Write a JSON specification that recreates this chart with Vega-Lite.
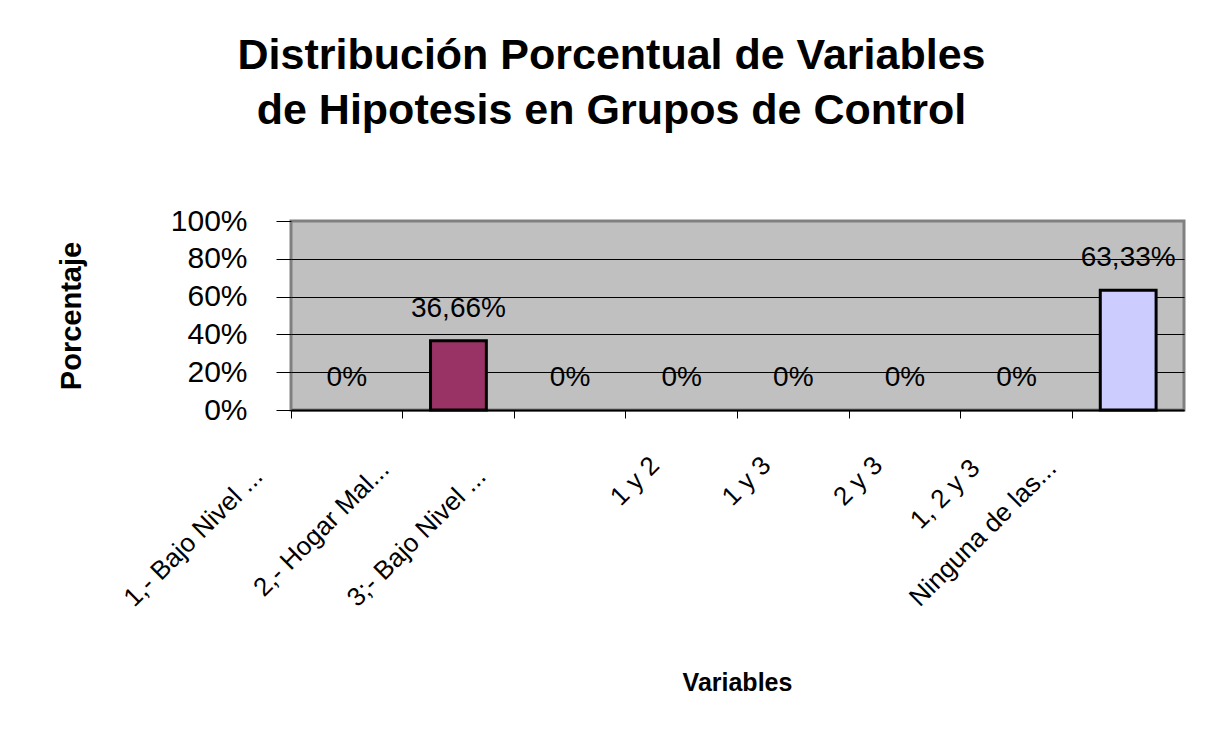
{
  "$schema": "https://vega.github.io/schema/vega-lite/v6.json",
  "autosize": {"type": "none"},
  "padding": {"left": 291, "top": 221, "right": 29, "bottom": 319},
  "width": 893,
  "height": 189,
  "background": "white",
  "title": {
    "text": ["Distribución Porcentual de Variables", "de Hipotesis en Grupos de Control"],
    "anchor": "middle",
    "frame": "group",
    "dx": -126,
    "font": "Liberation Sans",
    "fontSize": 43,
    "fontWeight": "bold",
    "color": "black",
    "lineHeight": 55,
    "baseline": "alphabetic",
    "offset": 39
  },
  "config": {
    "view": {"fill": "#C0C0C0", "stroke": "#808080", "strokeWidth": 3},
    "font": "Liberation Sans"
  },
  "data": {
    "values": [
      {"variable": "1,- Bajo Nivel ...", "porcentaje": 0, "etiqueta": "0%"},
      {"variable": "2,- Hogar Mal...", "porcentaje": 0.3666, "etiqueta": "36,66%"},
      {"variable": "3;- Bajo Nivel ...", "porcentaje": 0, "etiqueta": "0%"},
      {"variable": "1 y 2", "porcentaje": 0, "etiqueta": "0%"},
      {"variable": "1 y 3", "porcentaje": 0, "etiqueta": "0%"},
      {"variable": "2 y 3", "porcentaje": 0, "etiqueta": "0%"},
      {"variable": "1, 2 y 3", "porcentaje": 0, "etiqueta": "0%"},
      {"variable": "Ninguna de las...", "porcentaje": 0.6333, "etiqueta": "63,33%"}
    ]
  },
  "encoding": {
    "x": {
      "field": "variable",
      "type": "nominal",
      "sort": null,
      "scale": {"paddingInner": 0, "paddingOuter": 0},
      "axis": {
        "title": "Variables",
        "titleFont": "Liberation Sans",
        "titleFontSize": 25,
        "titleFontWeight": "bold",
        "titleColor": "black",
        "titleX": 446,
        "titleY": 272,
        "titleAlign": "center",
        "titleBaseline": "middle",
        "bandPosition": 0,
        "labelAngle": -45,
        "labelAlign": "center",
        "labelBaseline": "alphabetic",
        "labelPadding": {"expr": "47 + 4.31*length(datum.label)"},
        "labelOffset": {"expr": "-8.2*length(datum.label)"},
        "labelFont": "Liberation Sans",
        "labelFontSize": 26,
        "labelColor": "black",
        "labelOverlap": false,
        "labelLimit": 0,
        "labelBound": false,
        "labelFlush": false,
        "tickSize": 8,
        "tickColor": "black",
        "tickWidth": 1,
        "domainColor": "black",
        "domainWidth": 2,
        "grid": false
      }
    },
    "y": {
      "field": "porcentaje",
      "type": "quantitative",
      "scale": {"domain": [0, 1], "nice": false},
      "axis": {
        "title": "Porcentaje",
        "titleFont": "Liberation Sans",
        "titleFontSize": 29,
        "titleFontWeight": "bold",
        "titleColor": "black",
        "titleX": -220,
        "titleY": 94.5,
        "titleAlign": "center",
        "titleBaseline": "middle",
        "values": [0, 0.2, 0.4, 0.6, 0.8, 1],
        "tickCount": 6,
        "format": ".0%",
        "labelFont": "Liberation Sans",
        "labelFontSize": 30,
        "labelColor": "black",
        "labelPadding": 29,
        "labelOverlap": false,
        "labelFlush": false,
        "tickSize": 15,
        "tickColor": "black",
        "domain": false,
        "grid": true,
        "gridColor": {"condition": {"test": "datum.value >= 1", "value": "#808080"}, "value": "black"},
        "gridWidth": 1,
        "gridOpacity": 1
      }
    }
  },
  "layer": [
    {
      "mark": {"type": "bar", "width": {"band": 0.5}, "stroke": "black", "strokeWidth": 3},
      "encoding": {
        "fill": {
          "field": "variable",
          "type": "nominal",
          "sort": null,
          "scale": {
            "domain": ["1,- Bajo Nivel ...", "2,- Hogar Mal...", "3;- Bajo Nivel ...", "1 y 2", "1 y 3", "2 y 3", "1, 2 y 3", "Ninguna de las..."],
            "range": ["#9999FF", "#993366", "#FFFFCC", "#CCFFFF", "#660066", "#FF8080", "#0066CC", "#CCCCFF"]
          },
          "legend": null
        },
        "strokeOpacity": {"condition": {"test": "datum.porcentaje == 0", "value": 0}, "value": 1}
      }
    },
    {
      "mark": {"type": "text", "baseline": "middle", "align": "center", "dy": -32, "font": "Liberation Sans", "fontSize": 28, "color": "black"},
      "encoding": {
        "text": {"field": "etiqueta", "type": "nominal"}
      }
    }
  ]
}
